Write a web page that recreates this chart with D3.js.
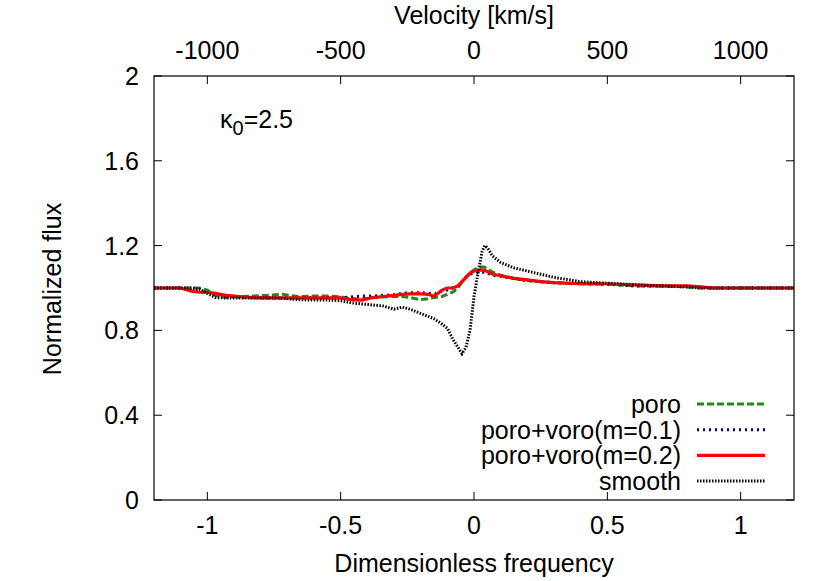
<!DOCTYPE html>
<html><head><meta charset="utf-8">
<script src="https://cdn.jsdelivr.net/npm/d3@7"></script>
<style>body{margin:0;background:#fff}text{font-family:"Liberation Sans",Arial,sans-serif;fill:#000}</style>
</head><body><svg id="c" width="830" height="581"></svg>
<script>
const xs = [-1.2,-1.1,-1.06,-1.03,-1.0,-0.97,-0.93,-0.88,-0.83,-0.78,-0.72,-0.66,-0.6,-0.55,-0.5,-0.46,-0.42,-0.38,-0.34,-0.3,-0.27,-0.24,-0.2,-0.17,-0.15,-0.12,-0.1,-0.08,-0.06,-0.045,-0.03,-0.015,0,0.015,0.03,0.04,0.05,0.07,0.1,0.15,0.2,0.25,0.3,0.4,0.5,0.6,0.7,0.8,0.85,0.9,1.0,1.1,1.2];
const poro = [1.0,1.0,1.0,1.0,0.99,0.965,0.955,0.96,0.962,0.965,0.97,0.96,0.962,0.962,0.958,0.95,0.948,0.955,0.958,0.96,0.96,0.955,0.945,0.95,0.955,0.96,0.97,0.98,1.0,1.03,1.05,1.07,1.085,1.095,1.1,1.098,1.09,1.075,1.06,1.045,1.035,1.03,1.025,1.02,1.018,1.01,1.01,1.005,1.0,1.0,1.0,1.0,1.0];
const voro1 = [1.0,1.0,0.99,0.982,0.98,0.972,0.962,0.957,0.954,0.953,0.953,0.953,0.954,0.955,0.953,0.958,0.962,0.962,0.965,0.968,0.975,0.978,0.978,0.975,0.97,0.985,0.99,1.0,1.01,1.03,1.05,1.065,1.07,1.073,1.075,1.073,1.07,1.06,1.055,1.045,1.035,1.03,1.025,1.02,1.018,1.01,1.01,1.008,1.003,1.0,1.0,1.0,1.0];
const voro2 = [1.0,1.0,0.985,0.98,0.98,0.975,0.965,0.96,0.955,0.953,0.953,0.953,0.953,0.953,0.953,0.945,0.943,0.955,0.96,0.965,0.97,0.972,0.972,0.97,0.96,0.99,1.0,1.0,1.01,1.03,1.05,1.07,1.08,1.083,1.085,1.082,1.078,1.065,1.058,1.045,1.038,1.03,1.025,1.02,1.02,1.015,1.01,1.01,1.005,1.0,1.0,1.0,1.0];
const smooth = [1.0,1.0,1.0,0.995,0.975,0.955,0.953,0.953,0.953,0.953,0.952,0.945,0.943,0.943,0.94,0.93,0.925,0.92,0.915,0.9,0.91,0.9,0.88,0.865,0.855,0.83,0.81,0.76,0.72,0.69,0.72,0.8,0.96,1.07,1.17,1.2,1.19,1.15,1.12,1.095,1.08,1.065,1.05,1.03,1.022,1.015,1.01,1.005,1.0,1.0,1.0,1.0,1.0];
const xTicks = [-1,-0.5,0,0.5,1];
const vTicks = [-1000,-500,0,500,1000];
const yTicks = [0,0.4,0.8,1.2,1.6,2];
const names = ["poro","poro+voro(m=0.1)","poro+voro(m=0.2)","smooth"];

const svg = d3.select("#c");
const L=154,R=794,T=76,B=500;
const x = d3.scaleLinear().domain([-1.2,1.2]).range([L,R]);
const v = d3.scaleLinear().domain([-1200,1200]).range([L,R]);
const y = d3.scaleLinear().domain([0,2]).range([B,T]);
const FS = 25;

// ticks
const tk = 8;
const g = svg.append("g").attr("stroke","#000").attr("stroke-width",1);
xTicks.forEach(t=>g.append("line").attr("x1",x(t)).attr("x2",x(t)).attr("y1",B).attr("y2",B-tk));
vTicks.forEach(t=>g.append("line").attr("x1",v(t)).attr("x2",v(t)).attr("y1",T).attr("y2",T+tk));
yTicks.forEach(t=>{
  g.append("line").attr("x1",L).attr("x2",L+tk).attr("y1",y(t)).attr("y2",y(t));
  g.append("line").attr("x1",R).attr("x2",R-tk).attr("y1",y(t)).attr("y2",y(t));
});

// tick labels
xTicks.forEach(t=>svg.append("text").attr("x",x(t)).attr("y",534).attr("text-anchor","middle").attr("font-size",FS).text(String(t)));
vTicks.forEach(t=>svg.append("text").attr("x",v(t)).attr("y",59).attr("text-anchor","middle").attr("font-size",FS).text(String(t)));
yTicks.forEach(t=>svg.append("text").attr("x",139).attr("y",y(t)+9).attr("text-anchor","end").attr("font-size",FS).text(String(t)));

// titles
svg.append("text").attr("x",474).attr("y",24).attr("text-anchor","middle").attr("font-size",FS).text("Velocity [km/s]");
svg.append("text").attr("x",474).attr("y",572).attr("text-anchor","middle").attr("font-size",FS).text("Dimensionless frequency");
svg.append("text").attr("transform","translate(61,289) rotate(-90)").attr("text-anchor","middle").attr("font-size",FS).text("Normalized flux");

// kappa annotation
const k = svg.append("text").attr("x",220).attr("y",128).attr("font-size",FS);
k.append("tspan").text("κ");
k.append("tspan").attr("dy",7).attr("font-size",20).text("0");
k.append("tspan").attr("dy",-7).text("=2.5");

// series
const series = [
  {vals:poro,color:"#1f8b1f",w:3,dash:"7,3"},
  {vals:voro1,color:"#00008b",w:3,dash:"2,4"},
  {vals:voro2,color:"#ff0000",w:3.2,dash:null},
  {vals:smooth,color:"#000",w:3,dash:"1.5,1.5"}
];
const line = d3.line().x(d=>x(d[0])).y(d=>y(d[1]));
svg.append("clipPath").attr("id","cp").append("rect").attr("x",L).attr("y",T).attr("width",R-L).attr("height",B-T);
series.forEach((s,i)=>{
  svg.append("path").datum(xs.map((xx,j)=>[xx,s.vals[j]]))
    .attr("d",line).attr("fill","none").attr("stroke",s.color).attr("stroke-width",s.w)
    .attr("stroke-dasharray",s.dash).attr("clip-path","url(#cp)");
  const ly = 404 + i*25.7;
  svg.append("text").attr("x",681).attr("y",ly+9).attr("text-anchor","end").attr("font-size",FS).text(names[i]);
  svg.append("line").attr("x1",697).attr("x2",765).attr("y1",ly).attr("y2",ly)
    .attr("stroke",s.color).attr("stroke-width",s.w).attr("stroke-dasharray",s.dash);
});

// frame
svg.append("rect").attr("x",L).attr("y",T).attr("width",R-L).attr("height",B-T).attr("fill","none").attr("stroke","#000").attr("stroke-width",1.2);
</script></body></html>
